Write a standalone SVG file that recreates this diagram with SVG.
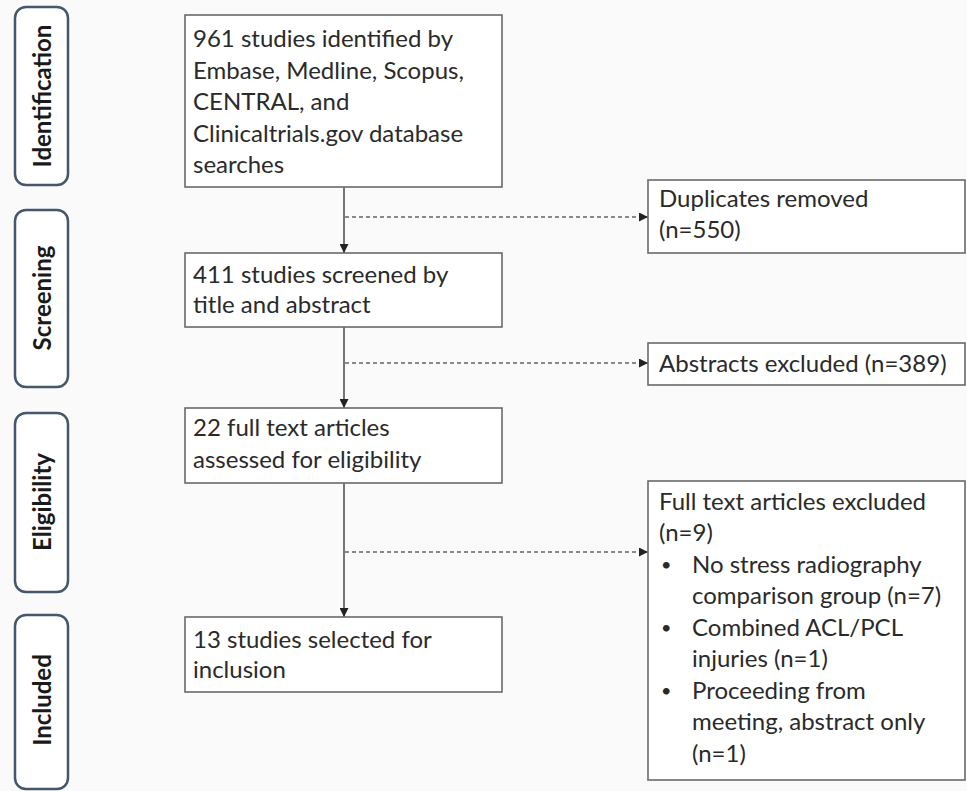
<svg xmlns="http://www.w3.org/2000/svg" width="967" height="791" viewBox="0 0 967 791">
<defs>
<marker id="ah" viewBox="0 0 10 10" refX="10" refY="5" markerWidth="9" markerHeight="9" markerUnits="userSpaceOnUse" orient="auto">
<path d="M0,0 L10,5 L0,10 z" fill="#222"/>
</marker>
</defs>
<style>
.phase rect{fill:#ffffff;stroke:#46566b;stroke-width:2.5}
.phase text{font-family:Lato,"Liberation Sans",sans-serif;font-weight:bold;font-size:24px;fill:#1a1a1a;text-anchor:middle;dominant-baseline:central}
.box rect{fill:#ffffff;stroke:#6a6a6a;stroke-width:1.6}
.box text{font-family:Lato,"Liberation Sans",sans-serif;font-size:24px;fill:#2a2a2a}
.box text.b{font-size:18px}
.solid{stroke:#555;stroke-width:1.6;fill:none}
.dash{stroke:#8a8a8a;stroke-width:2.2;stroke-dasharray:4 3;fill:none}
</style>
<rect width="967" height="791" fill="#fafafa"/>

<g id="phase-identification" class="phase">
<rect x="15" y="7" width="53" height="178" rx="11"/>
<text transform="translate(41.5,96) rotate(-90)">Identification</text>
</g>
<g id="phase-screening" class="phase">
<rect x="15" y="210" width="53" height="177" rx="11"/>
<text transform="translate(41.5,298) rotate(-90)">Screening</text>
</g>
<g id="phase-eligibility" class="phase">
<rect x="15" y="413" width="53" height="179" rx="11"/>
<text transform="translate(41.5,502) rotate(-90)">Eligibility</text>
</g>
<g id="phase-included" class="phase">
<rect x="15" y="615" width="53" height="174" rx="11"/>
<text transform="translate(41.5,700) rotate(-90)">Included</text>
</g>

<g id="connectors">
<line class="solid" x1="344" y1="187" x2="344" y2="253" marker-end="url(#ah)"/>
<line class="solid" x1="344" y1="327" x2="344" y2="408" marker-end="url(#ah)"/>
<line class="solid" x1="344" y1="483" x2="344" y2="617" marker-end="url(#ah)"/>
<line class="dash" x1="345" y1="217" x2="648" y2="217" marker-end="url(#ah)"/>
<line class="dash" x1="345" y1="363" x2="648" y2="363" marker-end="url(#ah)"/>
<line class="dash" x1="345" y1="552" x2="648" y2="552" marker-end="url(#ah)"/>
</g>

<g id="box-identified" class="box">
<rect x="185" y="15" width="317" height="172"/>
<text x="193" y="47">961 studies identified by</text>
<text x="193" y="79">Embase, Medline, Scopus,</text>
<text x="193" y="110">CENTRAL, and</text>
<text x="193" y="142">Clinicaltrials.gov database</text>
<text x="193" y="173">searches</text>
</g>
<g id="box-screened" class="box">
<rect x="185" y="253" width="317" height="74"/>
<text x="193" y="283">411 studies screened by</text>
<text x="193" y="313">title and abstract</text>
</g>
<g id="box-eligibility" class="box">
<rect x="185" y="408" width="317" height="75"/>
<text x="193" y="436">22 full text articles</text>
<text x="193" y="468">assessed for eligibility</text>
</g>
<g id="box-included" class="box">
<rect x="185" y="617" width="317" height="75"/>
<text x="193" y="648">13 studies selected for</text>
<text x="193" y="678">inclusion</text>
</g>
<g id="box-duplicates" class="box">
<rect x="648" y="180" width="317" height="73"/>
<text x="659" y="207">Duplicates removed</text>
<text x="659" y="238">(n=550)</text>
</g>
<g id="box-abstracts" class="box">
<rect x="648" y="343" width="317" height="42"/>
<text x="659" y="372">Abstracts excluded (n=389)</text>
</g>
<g id="box-fulltext" class="box">
<rect x="648" y="481" width="317" height="299"/>
<text x="659" y="510">Full text articles excluded</text>
<text x="659" y="541">(n=9)</text>
<text class="b" x="661" y="571">•</text>
<text x="692" y="573">No stress radiography</text>
<text x="692" y="604">comparison group (n=7)</text>
<text class="b" x="661" y="634">•</text>
<text x="692" y="636">Combined ACL/PCL</text>
<text x="692" y="667">injuries (n=1)</text>
<text class="b" x="661" y="697">•</text>
<text x="692" y="699">Proceeding from</text>
<text x="692" y="730">meeting, abstract only</text>
<text x="692" y="762">(n=1)</text>
</g>
</svg>
